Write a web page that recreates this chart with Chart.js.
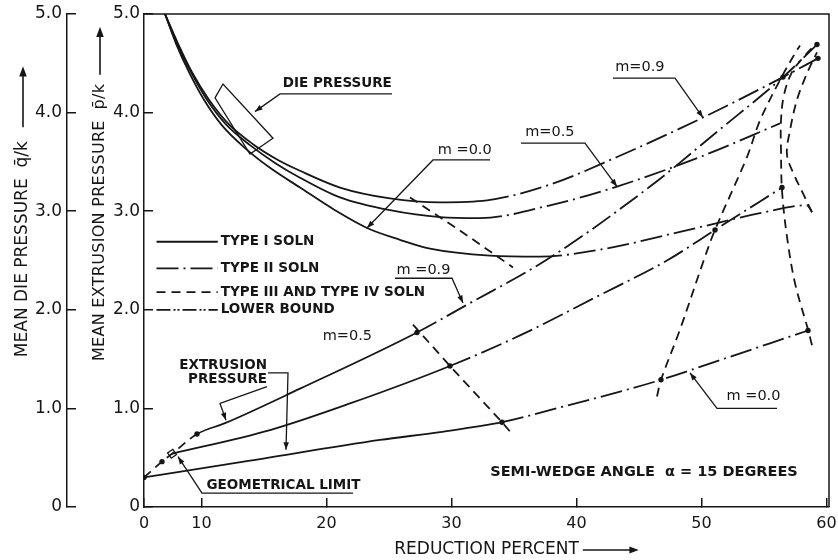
<!DOCTYPE html>
<html>
<head>
<meta charset="utf-8">
<script src="https://cdn.jsdelivr.net/npm/chart.js@4/dist/chart.umd.min.js"></script>
<style>
  html, body { margin: 0; background: #fff; }
</style>
</head>
<body>
<canvas id="chart" width="838" height="560"></canvas>
<script>
// --- values (reduction %, pressure / k) ---
// the hand-drawn axis puts its "0" at 5.4 on the 10..60 spacing
const xOrigin = 5.4;
const xEnd = 60.2;
const xTicks = [10, 20, 30, 40, 50, 60];
const yTicks = [0, 1, 2, 3, 4, 5];

// die pressure curves
const dieM00 = [[7.08,5.0],[7.96,4.70],[9.0,4.41],[10.2,4.13],[11.64,3.87],[13.48,3.64],[15.48,3.44],[17.88,3.24],[20.68,3.01],
                [23.24,2.83],[25.88,2.71],[28.28,2.62],[33.08,2.55],[37.08,2.54],
                [41.88,2.61],[48.28,2.79],[54.68,2.98],[58.44,3.06],[58.84,2.99]];
const dieM05 = [[7.08,5.0],[8.04,4.70],[9.16,4.41],[10.44,4.13],[11.96,3.88],[13.88,3.67],[15.88,3.49],[17.88,3.34],[21.08,3.14],
                [25.08,3.01],[29.08,2.94],[32.28,2.93],
                [37.88,3.06],[43.24,3.25],[49.88,3.55],[56.28,3.89]];
const dieM09 = [[7.08,5.0],[8.12,4.70],[9.24,4.41],[10.6,4.13],[12.2,3.88],[14.12,3.68],[16.12,3.52],[17.88,3.41],[21.08,3.24],
                [25.08,3.13],[29.08,3.09],[32.84,3.11],
                [37.88,3.27],[43.24,3.55],[50.12,3.95],[56.52,4.36],[59.32,4.55]];

// extrusion pressure curves
const extM00 = [[5.4,0.30],[13.88,0.47],[24.28,0.68],[29.08,0.76],[34.04,0.86],
                [38.68,1.01],[43.48,1.17],[46.76,1.29],[51.48,1.49],[55.48,1.66],[58.52,1.79]];
const extM05 = [[7.64,0.54],[15.48,0.78],[21.88,1.05],[29.88,1.43],
                [35.48,1.74],[41.88,2.15],[47.24,2.50],[51.08,2.81],[56.44,3.24]];
const extM09 = [[5.4,0.30],[6.84,0.46],[7.64,0.54],[9.64,0.74],
                [11.88,0.85],[17.88,1.20],[27.24,1.77],
                [31.08,2.04],[37.64,2.51],[45.88,3.25],[51.48,3.83],[56.52,4.36],[59.24,4.69]];

// type III / type IV solution lines
const t3a = [[26.68,3.14],[30.84,2.79],[34.92,2.43]];
const t3b = [[26.92,1.85],[29.88,1.43],[34.04,0.86],[34.92,0.73]];
const t3c = [[46.44,1.12],[46.76,1.29],[48.28,1.80],[50.12,2.48],[51.08,2.81],[53.64,3.55],[54.68,3.92],[56.28,4.33],[57.48,4.60],[57.88,4.68]];
const t3d = [[58.84,1.64],[58.52,1.80],[57.48,2.27],[56.84,2.74],[56.44,3.21],[56.36,3.62],[56.36,3.92],[56.6,4.18],[57.24,4.41],[58.28,4.58],[59.08,4.69]];
const t3e = [[58.84,2.99],[58.12,3.18],[57.48,3.35],[56.84,3.57],[57.08,3.82],[57.64,4.13],[58.28,4.35],[58.84,4.51],[59.24,4.61]];

// marked solution points
const nodes = [[5.4,0.30],[6.84,0.46],[9.64,0.74],[27.24,1.77],[29.88,1.43],[34.04,0.86],[46.76,1.29],
               [51.08,2.81],[56.44,3.24],[58.52,1.79],[59.24,4.69],[59.32,4.55],[56.52,4.36]];
const geoLimit = [[7.64,0.54]];

// --- styles ---
const INK = '#161616';
const TYPE1 = [];
const TYPE2 = [22, 5, 2, 5];
const TYPE3 = [9, 6];
const LOWER = [14, 3, 2, 2, 2, 3];
const FONT = '"DejaVu Sans", sans-serif';

const pts = arr => arr.map(([x, y]) => ({x, y}));

// dash changes along a curve: [first segment index, pattern]
function dashes(ranges) {
  return ctx => {
    let d = TYPE1;
    for (const [from, pat] of ranges) if (ctx.p0DataIndex >= from) d = pat;
    return d;
  };
}

function curve(data, ranges, smooth) {
  return {
    data: pts(data),
    borderColor: INK,
    borderWidth: 1.8,
    pointRadius: 0,
    fill: false,
    cubicInterpolationMode: smooth === 'mono' ? 'monotone' : 'default',
    tension: smooth === 'mono' ? 0 : smooth,
    segment: { borderDash: dashes(ranges) }
  };
}

const datasets = [
  curve(dieM00, [[13, TYPE2]], 'mono'),
  curve(dieM05, [[11, TYPE2]], 'mono'),
  curve(dieM09, [[11, TYPE2]], 'mono'),
  curve(extM00, [[4, TYPE2]], 'mono'),
  curve(extM05, [[3, TYPE2]], 'mono'),
  curve(extM09, [[0, TYPE3], [3, TYPE1], [6, TYPE2]], 'mono'),
  curve(t3a, [[0, TYPE3]], 0),
  curve(t3b, [[0, TYPE3]], 0),
  curve(t3c, [[0, TYPE3]], 0.35),
  curve(t3d, [[0, TYPE3]], 0.35),
  curve(t3e, [[0, TYPE3]], 0.35),
  {
    data: pts(nodes), showLine: false,
    pointRadius: 2.7, pointBackgroundColor: INK, pointBorderWidth: 0
  },
  {
    data: pts(geoLimit), showLine: false,
    pointStyle: 'rect', rotation: 55, pointRadius: 4.5,
    pointBackgroundColor: '#fff', pointBorderColor: INK, pointBorderWidth: 1.3
  }
];

// --- annotation layout, in axis units ---
const notes = [
  ['DIE PRESSURE', 16.5, 4.30, 'bold 13.5px ' + FONT, 'left'],
  ['m =0.0', 28.9, 3.62, '14.5px ' + FONT, 'left'],
  ['m=0.5', 35.9, 3.80, '14.5px ' + FONT, 'left'],
  ['m=0.9', 43.1, 4.46, '14.5px ' + FONT, 'left'],
  ['m =0.9', 25.6, 2.40, '14.5px ' + FONT, 'left'],
  ['m=0.5', 19.7, 1.73, '14.5px ' + FONT, 'left'],
  ['m =0.0', 52.0, 1.12, '14.5px ' + FONT, 'left'],
  ['EXTRUSION', 15.24, 1.44, 'bold 13.5px ' + FONT, 'right'],
  ['PRESSURE', 15.24, 1.29, 'bold 13.5px ' + FONT, 'right'],
  ['GEOMETRICAL LIMIT', 10.4, 0.22, 'bold 13.5px ' + FONT, 'left'],
  ['SEMI-WEDGE ANGLE  \u03b1 = 15 DEGREES', 33.1, 0.35, 'bold 14.5px ' + FONT, 'left']
];
// leader lines, arrowhead on the last point
const leaders = [
  [[25.24,4.19],[16.28,4.19],[14.28,4.01]],
  [[33.08,3.52],[28.52,3.52],[23.24,2.83]],
  [[35.56,3.69],[40.68,3.69],[43.24,3.25]],
  [[42.92,4.35],[47.88,4.35],[50.12,3.95]],
  [[25.48,2.32],[30.04,2.32],[30.92,2.07]],
  [[56.04,1.00],[51.24,1.00],[49.08,1.36]],
  [[15.32,1.36],[16.92,1.36],[16.76,0.58]],
  [[15.24,1.22],[11.48,1.05],[11.96,0.88]],
  [[22.12,0.14],[10.04,0.14],[8.12,0.51]]
];
const dieBox = [[11.08,4.15],[11.72,4.29],[15.72,3.74],[13.88,3.58]];
const legendRows = [
  ['TYPE I SOLN', 2.69, TYPE1],
  ['TYPE II SOLN', 2.42, TYPE2],
  ['TYPE III AND TYPE IV SOLN', 2.18, TYPE3],
  ['LOWER BOUND', 2.00, LOWER]
];

const inkPlugin = {
  id: 'ink',
  afterDraw(chart) {
    const {ctx, chartArea: a, scales} = chart;
    const sx = scales.x, sy = scales.y;
    const P = (u, v) => [sx.getPixelForValue(u), sy.getPixelForValue(v)];
    ctx.save();
    ctx.strokeStyle = INK;
    ctx.fillStyle = INK;
    ctx.lineWidth = 1.5;

    // frame top and right
    ctx.beginPath();
    ctx.moveTo(a.left, a.top);
    ctx.lineTo(a.right, a.top);
    ctx.lineTo(a.right, a.bottom);
    ctx.stroke();

    const arrowHead = (x0, y0, x1, y1, size) => {
      const ang = Math.atan2(y1 - y0, x1 - x0);
      ctx.beginPath();
      ctx.moveTo(x1, y1);
      ctx.lineTo(x1 - size * Math.cos(ang - 0.35), y1 - size * Math.sin(ang - 0.35));
      ctx.lineTo(x1 - size * Math.cos(ang + 0.35), y1 - size * Math.sin(ang + 0.35));
      ctx.closePath();
      ctx.fill();
    };

    // leaders
    ctx.lineWidth = 1.3;
    leaders.forEach(line => {
      const p = line.map(([u, v]) => P(u, v));
      ctx.beginPath();
      p.forEach(([px, py], i) => i ? ctx.lineTo(px, py) : ctx.moveTo(px, py));
      ctx.stroke();
      const n = p.length;
      arrowHead(p[n - 2][0], p[n - 2][1], p[n - 1][0], p[n - 1][1], 8);
    });

    // die pressure box
    ctx.beginPath();
    dieBox.forEach(([u, v], i) => { const [px, py] = P(u, v); i ? ctx.lineTo(px, py) : ctx.moveTo(px, py); });
    ctx.closePath();
    ctx.stroke();

    // labels
    ctx.textBaseline = 'middle';
    notes.forEach(([t, u, v, f, al]) => {
      const [px, py] = P(u, v);
      ctx.font = f;
      ctx.textAlign = al;
      ctx.fillText(t, px, py);
    });

    // legend
    ctx.font = 'bold 13.5px ' + FONT;
    ctx.textAlign = 'left';
    ctx.lineWidth = 1.8;
    legendRows.forEach(([t, v, dash]) => {
      const [x0, py] = P(6.4, v);
      const [x1] = P(11.3, v);
      ctx.setLineDash(dash);
      ctx.beginPath();
      ctx.moveTo(x0, py);
      ctx.lineTo(x1, py);
      ctx.stroke();
      ctx.setLineDash([]);
      ctx.fillText(t, x1 + 3, py);
    });

    // vertical axis titles with up arrows
    const yTitle = (text, cx, startY, size, spacing, gap, len) => {
      ctx.save();
      ctx.translate(cx, startY);
      ctx.rotate(-Math.PI / 2);
      ctx.font = size + 'px ' + FONT;
      ctx.letterSpacing = spacing;
      ctx.textAlign = 'left';
      ctx.textBaseline = 'middle';
      ctx.fillText(text, 0, 0);
      const w = ctx.measureText(text).width;
      ctx.lineWidth = 1.6;
      ctx.beginPath();
      ctx.moveTo(w + gap, 0);
      ctx.lineTo(w + gap + len - 4, 0);
      ctx.stroke();
      arrowHead(w + gap, 0, w + gap + len, 0, 11);
      ctx.restore();
    };
    yTitle('MEAN EXTRUSION PRESSURE  p\u0304/k', scales.y.left + 33, sy.getPixelForValue(1.48), 16, '0.3px', 9, 48);
    yTitle('MEAN DIE PRESSURE  q\u0304/k', scales.y2.left + 23, sy.getPixelForValue(1.52), 17, '0px', 14, 61);

    // arrow after the x title
    ctx.font = '17px ' + FONT;
    const tw = ctx.measureText('REDUCTION PERCENT').width;
    const cx = (a.left + a.right) / 2 + tw / 2 + 4;
    const cy = chart.height - 10;
    ctx.lineWidth = 1.5;
    ctx.beginPath();
    ctx.moveTo(cx, cy);
    ctx.lineTo(cx + 52, cy);
    ctx.stroke();
    arrowHead(cx, cy, cx + 56, cy, 10);

    ctx.restore();
  }
};

const tickFont = { family: FONT, size: 17 };
// keep the tick-label overflow from shrinking the plot area
const noPad = s => { s.paddingLeft = 0; s.paddingRight = 0; s.paddingTop = 0; s.paddingBottom = 0; };

new Chart(document.getElementById('chart'), {
  type: 'line',
  data: { datasets },
  plugins: [inkPlugin],
  options: {
    responsive: false,
    devicePixelRatio: 1,
    animation: false,
    layout: { padding: { top: 14, right: 9, left: 0, bottom: 0 } },
    plugins: { legend: { display: false }, tooltip: { enabled: false } },
    scales: {
      x: {
        type: 'linear',
        min: xOrigin,
        max: xEnd,
        afterBuildTicks: s => { s.ticks = [xOrigin, ...xTicks].map(v => ({ value: v })); },
        afterFit: s => { s.height = 53; noPad(s); },
        ticks: {
          color: INK, font: { family: FONT, size: 16 }, padding: 16, maxRotation: 0,
          callback: v => v === xOrigin ? '0' : String(v)
        },
        grid: { drawOnChartArea: false, tickLength: -9, color: INK, lineWidth: 1.5 },
        border: { color: INK, width: 1.5 },
        title: {
          display: true, text: 'REDUCTION PERCENT', color: INK,
          font: { family: FONT, size: 17 }, padding: { top: 0, bottom: 0 }
        }
      },
      y: {
        type: 'linear',
        position: 'left',
        weight: 0,
        min: 0,
        max: 5,
        afterBuildTicks: s => { s.ticks = yTicks.map(v => ({ value: v })); },
        afterFit: s => { s.width = 77; noPad(s); },
        ticks: {
          color: INK, font: tickFont, padding: 13,
          callback: v => v === 0 ? '0' : v.toFixed(1)
        },
        grid: { drawOnChartArea: false, tickLength: -9, color: INK, lineWidth: 1.5 },
        border: { color: INK, width: 1.5 }
      },
      y2: {
        type: 'linear',
        position: 'left',
        weight: 1,
        min: 0,
        max: 5,
        afterBuildTicks: s => { s.ticks = yTicks.map(v => ({ value: v })); },
        afterFit: s => { s.width = 67; noPad(s); },
        ticks: {
          color: INK, font: tickFont, padding: 14,
          callback: v => v === 0 ? '0' : v.toFixed(1)
        },
        grid: { drawOnChartArea: false, tickLength: -9, color: INK, lineWidth: 1.5 },
        border: { color: INK, width: 1.5 }
      }
    }
  }
});
</script>
</body>
</html>
